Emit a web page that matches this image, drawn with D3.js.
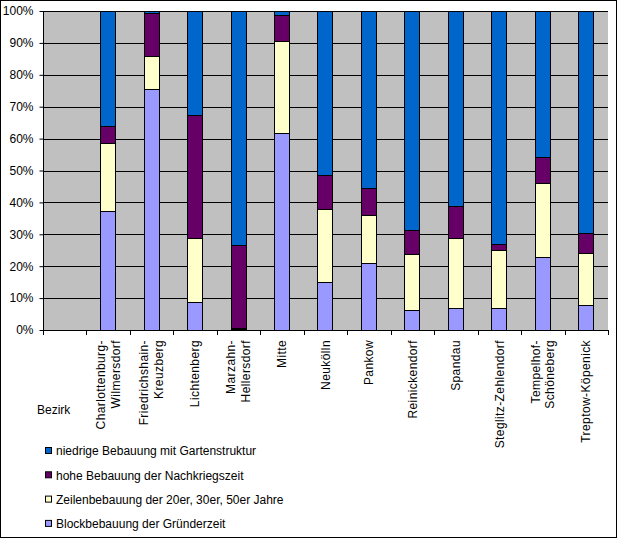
<!DOCTYPE html>
<html>
<head>
<meta charset="utf-8">
<script src="https://cdn.jsdelivr.net/npm/d3@7"></script>
<style>
  body { margin: 0; background: #fff; }
  svg { display: block; font-family: "Liberation Sans", Arial, sans-serif; }
</style>
</head>
<body>
<div id="chart"></div>
<script>
// first slot is left empty, like in the original sheet
const bezirke = ["", "Charlottenburg-\nWilmersdorf", "Friedrichshain-\nKreuzberg", "Lichtenberg",
  "Marzahn-\nHellersdorf", "Mitte", "Neukölln", "Pankow", "Reinickendorf", "Spandau",
  "Steglitz-Zehlendorf", "Tempelhof-\nSchöneberg", "Treptow-Köpenick"];

const block   = [null, 37.4, 75.6, 8.8, 0.3, 61.8, 15.0, 21.0, 6.3, 7.0, 7.0, 22.9, 7.9];
const zeilen  = [null, 21.1, 10.3, 20.1, 0.2, 28.9, 22.9, 15.0, 17.4, 21.7, 18.1, 23.3, 16.1];
const hohe    = [null, 5.5, 13.6, 38.5, 26.1, 8.1, 10.6, 8.6, 7.6, 10.3, 1.8, 8.1, 6.3];
const niedrig = [null, 36.0, 0.5, 32.6, 73.4, 1.2, 51.5, 55.4, 68.7, 61.0, 73.1, 45.7, 69.7];

const serien = [
  { key: "block", name: "Blockbebauung der Gründerzeit", color: "#9999FF", values: block },
  { key: "zeilen", name: "Zeilenbebauung der 20er, 30er, 50er Jahre", color: "#FFFFCC", values: zeilen },
  { key: "hohe", name: "hohe Bebauung der Nachkriegszeit", color: "#660066", values: hohe },
  { key: "niedrig", name: "niedrige Bebauung mit Gartenstruktur", color: "#0066CC", values: niedrig }
];

const width = 620, height = 539;
const plot = { left: 43, right: 608, top: 11, bottom: 330 };
const fs = 12;

const svg = d3.select("#chart").append("svg")
  .attr("width", width)
  .attr("height", height);

// outer frame
svg.append("rect")
  .attr("x", 0.5).attr("y", 0.5)
  .attr("width", 616).attr("height", 537)
  .attr("fill", "#fff").attr("stroke", "#000");

const x = d3.scaleBand()
  .domain(d3.range(bezirke.length))
  .range([plot.left, plot.right])
  .paddingInner(0.63)
  .paddingOuter(0.315);

const y = d3.scaleLinear()
  .domain([0, 100])
  .range([plot.bottom, plot.top]);

svg.append("rect")
  .attr("x", plot.left).attr("y", plot.top)
  .attr("width", plot.right - plot.left).attr("height", plot.bottom - plot.top)
  .attr("fill", "#C0C0C0");

// gridlines
svg.append("g")
  .selectAll("line")
  .data(d3.range(10, 101, 10))
  .join("line")
  .attr("x1", plot.left).attr("x2", plot.right)
  .attr("y1", d => Math.round(y(d)) + 0.5).attr("y2", d => Math.round(y(d)) + 0.5)
  .attr("stroke", "#000");

// stacked data
const rows = bezirke.map((b, i) => {
  const r = { i: i };
  serien.forEach(s => r[s.key] = s.values[i] || 0);
  return r;
}).filter(r => bezirke[r.i] !== "");

const stack = d3.stack().keys(serien.map(s => s.key));
const stacked = stack(rows);

svg.append("g")
  .selectAll("g")
  .data(stacked)
  .join("g")
  .attr("fill", (d, i) => serien[i].color)
  .selectAll("rect")
  .data(d => d)
  .join("rect")
  .attr("x", d => Math.round(x(d.data.i)) + 0.5)
  .attr("width", Math.round(x.bandwidth()) - 1)
  .attr("y", d => Math.round(y(d[1])) + 0.5)
  .attr("height", d => Math.max(0, Math.round(y(d[0])) - Math.round(y(d[1]))))
  .attr("stroke", "#000")
  .attr("stroke-width", 1);

// y axis
const yAxis = svg.append("g")
  .attr("transform", `translate(${plot.left + 0.5},0)`)
  .call(d3.axisLeft(y).tickValues(d3.range(0, 101, 10)).tickSize(4).tickFormat(d => d + "%"));
yAxis.select(".domain").attr("stroke", "#000").attr("d", `M0,${plot.top}V${plot.bottom}`);
yAxis.selectAll(".tick line").attr("stroke", "#000");
yAxis.selectAll(".tick text")
  .attr("x", -10)
  .attr("font-size", fs)
  .attr("font-family", "Liberation Sans, Arial, sans-serif")
  .attr("fill", "#000");

// x axis line and ticks at category boundaries
const step = x.step();
const boundaries = d3.range(bezirke.length + 1).map(i => plot.left + i * step);
svg.append("line")
  .attr("x1", plot.left).attr("x2", plot.right)
  .attr("y1", plot.bottom + 0.5).attr("y2", plot.bottom + 0.5)
  .attr("stroke", "#000");
svg.append("g")
  .selectAll("line")
  .data(boundaries)
  .join("line")
  .attr("x1", d => Math.round(d) + 0.5).attr("x2", d => Math.round(d) + 0.5)
  .attr("y1", plot.bottom).attr("y2", plot.bottom + 5)
  .attr("stroke", "#000");

// rotated category labels
const labels = svg.append("g")
  .selectAll("text")
  .data(bezirke.map((b, i) => ({ b, i })).filter(d => d.b !== ""))
  .join("text")
  .attr("transform", d => `translate(${x(d.i) + x.bandwidth() / 2},340) rotate(-90)`)
  .attr("text-anchor", "end")
  .attr("font-size", fs)
  .attr("letter-spacing", 0.4)
  .attr("fill", "#000");
labels.each(function (d) {
  const lines = d.b.split("\n");
  const t = d3.select(this);
  lines.forEach((l, k) => {
    t.append("tspan")
      .attr("x", 0)
      .attr("y", (k - (lines.length - 1) / 2) * 15)
      .attr("dy", "0.35em")
      .text(l);
  });
});

svg.append("text")
  .attr("x", 37).attr("y", 414)
  .attr("font-size", fs)
  .text("Bezirk");

// legend, top row is the last series
const legend = svg.append("g")
  .selectAll("g")
  .data(serien.slice().reverse())
  .join("g")
  .attr("transform", (d, i) => `translate(45,${451 + i * 24.3})`);
legend.append("rect")
  .attr("x", 0.5).attr("y", -3.5)
  .attr("width", 6).attr("height", 6)
  .attr("fill", d => d.color)
  .attr("stroke", "#000");
legend.append("text")
  .attr("x", 11).attr("dy", "0.35em")
  .attr("font-size", fs)
  .text(d => d.name);
</script>
</body>
</html>
